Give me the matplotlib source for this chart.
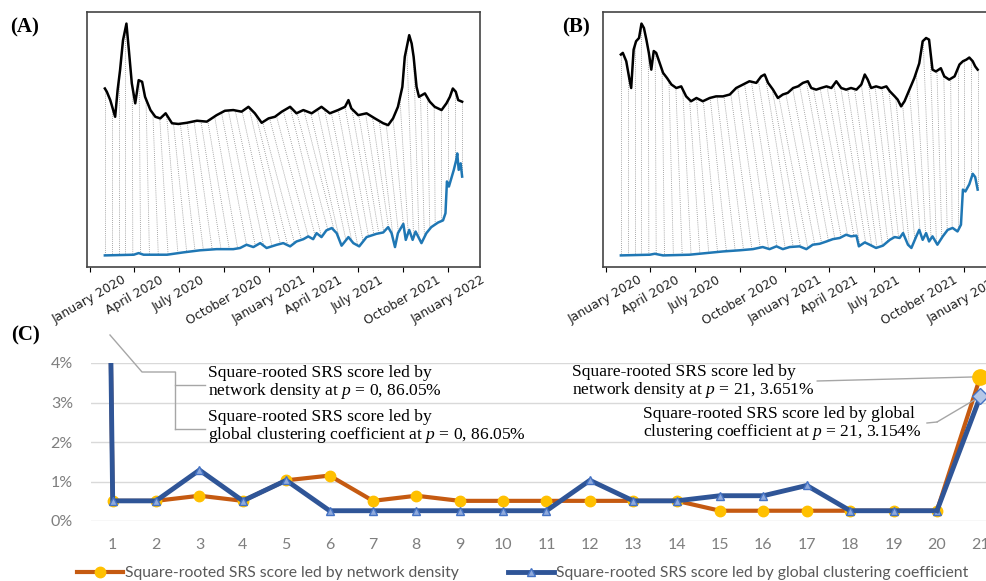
import numpy as np
import pandas as pd
import matplotlib
matplotlib.use("Agg")
import matplotlib.pyplot as plt
import matplotlib.dates as mdates
from matplotlib.lines import Line2D

plt.rcParams['mathtext.fontset'] = 'custom'
plt.rcParams['mathtext.it'] = 'Liberation Serif:italic'
plt.rcParams['mathtext.rm'] = 'Liberation Serif'

# ---- panel A: days since 2020-01-01 and scaled values ----
a_top_day = [31, 35, 42, 52, 57, 62, 68, 75, 80, 86, 93, 100, 107, 113, 124, 134, 144, 155, 168, 181,
             198, 219, 239, 259, 276, 293, 310, 324, 337, 351, 365, 378, 392, 409, 422, 436, 453, 473,
             490, 507, 521, 528, 534, 548, 565, 582, 599, 609, 619, 629, 638, 643, 652, 657, 661, 667,
             672, 684, 694, 704, 718, 728, 735, 741, 747, 752, 760]
a_top_val = [72.0, 70.6, 67.0, 59.8, 71.3, 79.9, 92.8, 100.0, 88.5, 74.2, 65.6, 75.6, 74.9, 68.4, 62.7,
             59.8, 59.1, 61.3, 57.0, 56.7, 57.2, 58.1, 57.7, 60.5, 62.4, 62.7, 62.0, 64.1, 61.3, 57.2,
             59.1, 59.8, 62.0, 64.1, 61.3, 62.7, 61.3, 64.1, 61.3, 62.7, 64.1, 67.0, 63.4, 60.5, 61.3,
             59.1, 57.0, 56.2, 59.1, 64.1, 72.7, 85.7, 95.0, 91.4, 85.7, 72.7, 68.4, 69.9, 66.3, 64.1,
             62.7, 65.6, 68.4, 72.0, 70.6, 67.0, 66.3]
a_bot_day = [31, 90, 100, 110, 158, 191, 225, 259, 293, 307, 320, 334, 348, 361, 382, 395, 409, 422,
             436, 446, 456, 463, 473, 483, 494, 504, 514, 528, 538, 550, 565, 585, 599, 609, 616, 623,
             629, 640, 645, 652, 659, 665, 677, 687, 697, 711, 721, 726, 729, 733, 738, 743, 748, 750,
             753, 757, 760]
a_bot_val = [0.0, 0.3, 1.0, 0.3, 0.3, 1.3, 2.2, 2.7, 2.7, 3.2, 4.6, 3.6, 5.3, 3.2, 4.6, 5.3, 3.9, 6.0,
             7.0, 8.2, 7.0, 9.6, 7.9, 10.8, 11.8, 9.6, 4.2, 7.9, 5.3, 3.9, 7.9, 9.3, 9.9, 12.2, 9.6, 3.6,
             9.6, 13.6, 6.7, 11.0, 6.7, 10.3, 5.3, 9.6, 12.2, 14.2, 15.1, 18.2, 31.9, 29.7, 33.3, 36.9,
             41.2, 44.0, 36.9, 39.7, 34.0]
# matched pairs (top day -> bottom day)
a_link_top = [31, 45, 59, 73, 87, 101, 115, 129, 143, 157, 171, 185, 199, 213, 227, 241, 255, 269,
              283, 297, 311, 325, 339, 353, 367, 381, 395, 409, 423, 437, 451, 465, 479, 493, 507,
              521, 535, 549, 563, 577, 591, 605, 619, 633, 647, 661, 675, 689, 703, 717, 731, 745, 759]
a_link_bot = [31, 45, 59, 73, 88, 104, 122, 140, 160, 180, 198, 215, 232, 250, 268, 285, 302, 320,
              338, 355, 372, 389, 404, 418, 432, 446, 460, 473, 486, 499, 511, 523, 535, 547, 558,
              569, 580, 590, 600, 610, 620, 630, 640, 650, 661, 672, 683, 694, 705, 717, 731, 745, 759]

# ---- panel B ----
b_top_day = [31, 35, 42, 48, 52, 57, 62, 68, 73, 78, 83, 88, 93, 98, 103, 110, 117, 125, 134, 144,
             154, 164, 174, 185, 198, 212, 225, 239, 253, 266, 280, 293, 307, 317, 324, 331, 341, 351,
             361, 371, 382, 392, 402, 412, 419, 429, 439, 450, 460, 470, 480, 490, 500, 511, 521, 528,
             534, 541, 551, 562, 572, 579, 589, 595, 602, 609, 619, 629, 639, 646, 653, 659, 666, 673,
             683, 690, 700, 711, 721, 728, 735, 741, 748, 753, 758]
b_top_val = [86.4, 87.1, 83.5, 76.3, 72.0, 88.5, 92.1, 93.5, 99.7, 97.8, 92.8, 87.1, 79.9, 87.9, 87.1,
             82.8, 78.5, 76.3, 73.5, 72.0, 72.7, 68.4, 66.3, 67.7, 66.3, 67.7, 68.4, 68.4, 69.2, 72.0,
             73.5, 74.9, 74.2, 77.0, 77.8, 74.2, 71.3, 67.7, 69.2, 69.9, 72.0, 72.7, 74.2, 74.9, 72.0,
             71.3, 72.0, 72.7, 72.0, 74.9, 72.0, 71.3, 72.0, 71.3, 73.5, 77.8, 75.6, 72.0, 72.7, 72.0,
             72.7, 70.6, 68.4, 67.0, 64.1, 66.3, 71.3, 76.3, 82.6, 92.1, 93.5, 92.8, 79.9, 79.1, 80.5,
             77.0, 75.6, 77.0, 82.1, 83.5, 84.2, 85.1, 83.5, 81.3, 79.9]
b_bot_day = [31, 90, 100, 117, 171, 205, 239, 273, 300, 320, 334, 348, 361, 375, 395, 409, 422, 436,
             450, 463, 477, 490, 500, 511, 516, 528, 538, 551, 565, 579, 589, 599, 606, 616, 623, 633,
             639, 646, 653, 659, 666, 676, 687, 697, 707, 717, 724, 728, 733, 741, 748, 753, 758]
b_bot_val = [0.0, 0.3, 0.7, 0.0, 0.3, 1.0, 1.7, 2.2, 2.7, 3.6, 2.7, 3.9, 2.7, 3.6, 3.9, 2.7, 4.6, 5.0,
             6.0, 7.0, 7.5, 8.9, 8.2, 8.5, 3.9, 5.6, 4.6, 3.2, 4.2, 6.7, 7.9, 7.5, 9.6, 4.6, 3.2, 8.2,
             11.0, 6.7, 9.6, 6.0, 8.2, 4.6, 8.2, 11.0, 11.8, 10.3, 13.2, 28.3, 27.5, 30.6, 35.1, 33.7,
             28.3]
b_link_top = a_link_top
b_link_bot = [31, 45, 59, 73, 88, 103, 120, 138, 156, 174, 192, 210, 228, 246, 264, 281, 298, 315,
              332, 349, 366, 382, 397, 412, 426, 440, 454, 467, 480, 493, 506, 518, 530, 542, 553,
              564, 575, 586, 597, 608, 619, 630, 641, 652, 663, 674, 685, 696, 706, 717, 731, 745, 759]

# ---- panel C ----
p = list(range(0, 22))
density = [86.05, 0.51, 0.51, 0.64, 0.51, 1.03, 1.15, 0.51, 0.64, 0.51, 0.51, 0.51, 0.51, 0.51, 0.51,
           0.26, 0.26, 0.26, 0.26, 0.26, 0.26, 3.651]
clustering = [86.05, 0.51, 0.51, 1.29, 0.51, 1.03, 0.26, 0.26, 0.26, 0.26, 0.26, 0.26, 1.03, 0.51, 0.51,
              0.64, 0.64, 0.90, 0.26, 0.26, 0.26, 3.154]

W, H = 987, 581
fig = plt.figure(figsize=(W / 100, H / 100), dpi=100)


def px(x0, y0, x1, y1):
    # pixel box (left, top, right, bottom) -> figure rect
    return [x0 / W, 1 - y1 / H, (x1 - x0) / W, (y1 - y0) / H]


base = pd.Timestamp('2020-01-01')


def to_dates(days):
    return base + pd.to_timedelta(np.array(days), unit='D')


def series_panel(ax, top_d, top_v, bot_d, bot_v, link_t, link_b):
    td, bd = np.array(top_d), np.array(bot_d)
    for t, b in zip(link_t, link_b):
        yt = np.interp(t, td, top_v)
        yb = np.interp(b, bd, bot_v)
        ax.plot(to_dates([t, b]), [yt, yb], ls=(0, (1, 1.5)), color='#8c8c8c', lw=0.6, zorder=1)
    ax.plot(to_dates(top_d), top_v, color='black', lw=1.8, zorder=3)
    ax.plot(to_dates(bot_d), bot_v, color='#1f77b4', lw=1.8, zorder=3)
    ax.set_yticks([])
    ax.xaxis.set_major_locator(mdates.MonthLocator(bymonth=[1, 4, 7, 10]))
    ax.xaxis.set_major_formatter(mdates.DateFormatter('%B %Y'))
    for lbl in ax.get_xticklabels():
        lbl.set_rotation(30)
        lbl.set_ha('center')
        lbl.set_fontsize(9)
        lbl.set_color('#222222')
    ax.tick_params(axis='x', length=3.5, pad=1)
    for s in ax.spines.values():
        s.set_color('#444444')
        s.set_linewidth(1.2)


axA = fig.add_axes(px(87, 12, 480, 267))
series_panel(axA, a_top_day, a_top_val, a_bot_day, a_bot_val, a_link_top, a_link_bot)
axB = fig.add_axes(px(603, 12, 996, 267))
series_panel(axB, b_top_day, b_top_val, b_bot_day, b_bot_val, b_link_top, b_link_bot)

serif = 'Liberation Serif'
fig.text(10 / W, 1 - 27 / H, '(A)', fontsize=15, fontweight='bold', family=serif, va='center')
fig.text(562 / W, 1 - 27 / H, '(B)', fontsize=15, fontweight='bold', family=serif, va='center')
fig.text(11 / W, 1 - 335 / H, '(C)', fontsize=15, fontweight='bold', family=serif, va='center')

# ---- panel C: line chart ----
axC = fig.add_axes(px(91, 363, 1002, 521))
axC.set_xlim(0.5, 21.5)
axC.set_ylim(0, 4)
for s in axC.spines.values():
    s.set_visible(False)
axC.set_yticks([0, 1, 2, 3, 4])
axC.set_yticklabels(['0%', '1%', '2%', '3%', '4%'])
axC.set_xticks(range(1, 22))
axC.set_xticklabels([str(i) for i in range(1, 22)])
axC.tick_params(length=0, colors='#7f7f7f', labelsize=11.5)
axC.tick_params(axis='y', pad=13)
axC.tick_params(axis='x', pad=12)
for lbl in axC.get_xticklabels() + axC.get_yticklabels():
    lbl.set_family('Lato')
axC.grid(axis='y', color='#d9d9d9', lw=1)
axC.set_axisbelow(True)

l1, = axC.plot(p[:-1], density[:-1], color='#C55A11', lw=3, marker='o', ms=7.5,
               mfc='#FFC000', mec='#FFC000', zorder=3)
axC.plot(p[-2:], density[-2:], color='#C55A11', lw=3, zorder=3)
axC.plot(p[-1:], density[-1:], 'o', ms=11, mfc='#FFC000', mec='#FFC000', zorder=5, clip_on=False)
l2, = axC.plot(p[:-1], clustering[:-1], color='#2F5597', lw=3.5, marker='^', ms=6,
               mfc='#8FAADC', mec='#4472C4', mew=1, zorder=4)
axC.plot(p[-2:], clustering[-2:], color='#2F5597', lw=3.5, zorder=4)
axC.plot(p[-1:], clustering[-1:], 'D', ms=8, mfc='#B4C7E7', mec='#4472C4', mew=1, zorder=6, clip_on=False)

# callouts
lead = dict(color='#a6a6a6', lw=1)


def fline(xs, ys):
    fig.add_artist(Line2D([x / W for x in xs], [1 - y / H for y in ys], **lead))


fline([110, 142, 175], [335, 372, 372])
fline([175, 175], [372, 429])
fline([175, 205], [385, 385])
fline([175, 205], [429, 429])

tk = dict(fontsize=12.6, family=serif, va='center', linespacing=1.0)
fig.text(208 / W, 1 - 383 / H, 'Square-rooted SRS score led by\nnetwork density at $\\mathit{p}$ = 0, 86.05%', **tk)
fig.text(208 / W, 1 - 427 / H,
         'Square-rooted SRS score led by\nglobal clustering coefficient at $\\mathit{p}$ = 0, 86.05%', **tk)
fig.text(572 / W, 1 - 382 / H, 'Square-rooted SRS score led by\nnetwork density at $\\mathit{p}$ = 21, 3.651%', **tk)
fig.text(643 / W, 1 - 424 / H,
         'Square-rooted SRS score led by global\nclustering coefficient at $\\mathit{p}$ = 21, 3.154%', **tk)

axC.annotate('', xy=(p[-1], density[-1]), xytext=(817 / W, 1 - 381 / H), textcoords='figure fraction',
             arrowprops=dict(arrowstyle='-', shrinkA=0, shrinkB=0, **lead), annotation_clip=False)
fline([927, 937], [423, 422])
axC.annotate('', xy=(p[-1], clustering[-1]), xytext=(937 / W, 1 - 422 / H), textcoords='figure fraction',
             arrowprops=dict(arrowstyle='-', shrinkA=0, shrinkB=0, **lead), annotation_clip=False)

# legend
leg_kw = dict(frameon=False, borderpad=0, borderaxespad=0, handlelength=2.95, handletextpad=0.12,
              prop={'family': 'Lato', 'size': 11.3}, labelcolor='#595959', loc='center left')
fig.legend([l1], ['Square-rooted SRS score led by network density'],
           bbox_to_anchor=(77 / W, 1 - 573 / H), **leg_kw)
fig.legend([l2], ['Square-rooted SRS score led by global clustering coefficient'],
           bbox_to_anchor=(508 / W, 1 - 573 / H), **leg_kw)

fig.savefig('out.png', dpi=100)
